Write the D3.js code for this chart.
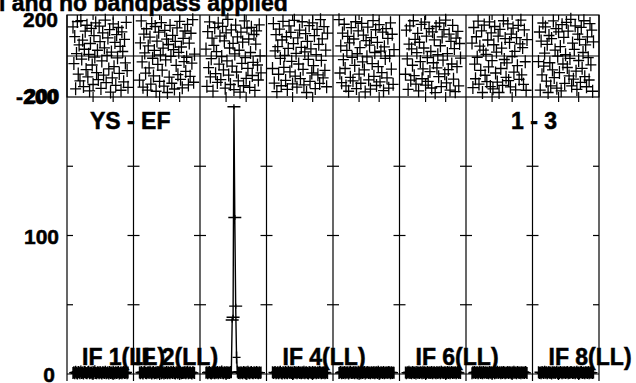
<!DOCTYPE html>
<html><head><meta charset="utf-8">
<script src="https://cdn.jsdelivr.net/npm/d3@7"></script>
<style>body{margin:0;background:#fff}svg{display:block}text{font-family:"Liberation Sans",Arial,sans-serif;font-weight:bold;fill:#000;stroke:#000;stroke-width:0.5}</style>
</head><body><svg id="c" width="636" height="383"></svg>
<script>
const ifNames = ["IF 1","IF 2","IF 3","IF 4","IF 5","IF 6","IF 7","IF 8"];
const channels = d3.range(1, 65);
const channelTicks = [24, 47];
const phaseTicks = [-200, 200];
const ampTicks = [0, 100];
const ampMinorTicks = [50, 100, 150];
const ifLabelText = ["IF 1(LL)","IF 2(LL)","IF 4(LL)","IF 6(LL)","IF 8(LL)"];
const ifLabelPanel = [0, 1, 3, 5, 7];
const baselineLabel = "YS - EF";
const sourceLabel = "1 - 3";
const titleText = "l and no bandpass applied";

const phaseIF1 = [142,-37,95,-160,12,168,-88,54,-121,173,-15,77,-149,33,121,-66,150,-102,8,-170,61,135,-44,-139,99,-5,162,-81,28,-115,146,70,-158,-24,113,-93,40,175,-130,3,88,-63,129,-176,19,-107,157,-52,66,-143,104,-9,139,-85,47,-167,118,22,-126,81,-34,164,-71,-153];
const phaseIF2 = [-118,64,171,-29,-152,107,15,-84,133,-166,49,-58,92,-137,158,-11,-97,27,144,-172,73,-41,116,-124,5,163,-69,38,-147,125,-19,82,-178,56,-103,149,-2,-133,101,31,-161,71,-46,137,-91,18,169,-114,44,-155,86,-27,122,-75,-6,154,-141,63,-99,111,-35,177,-128,9];
const phaseIF3 = [34,-148,119,-57,166,-102,-13,87,-171,52,138,-86,21,-129,160,-40,97,-115,-3,145,-68,74,-157,113,-24,179,-93,39,-139,127,-49,62,-164,10,151,-78,93,-121,28,-176,116,-36,68,-145,171,-8,-109,136,-60,83,-153,17,140,-95,-31,105,-168,58,123,-44,-117,152,1,-82];
const phaseIF4 = [-61,158,-132,25,104,-174,46,-89,131,-12,-145,78,169,-55,3,-119,94,-163,37,147,-77,115,-26,-136,60,174,-98,13,-152,88,-39,126,-110,42,167,-65,-141,20,109,-178,71,-16,148,-124,35,-83,162,-47,99,-159,7,130,-92,57,-134,177,-21,84,-107,143,-70,29,-150,112];
const phaseIF5 = [177,-83,49,-130,112,-18,155,-61,-146,27,96,-172,64,-104,138,-7,-121,83,-46,167,-159,11,123,-88,41,-133,159,-29,102,-68,-175,75,-4,141,-116,53,-162,90,-37,173,-99,17,128,-144,66,-52,153,-126,24,-81,116,-169,45,-12,134,-107,86,-157,1,162,-64,106,-138,31];
const phaseIF6 = [-89,126,-14,-163,58,147,-118,35,-45,172,-96,81,-137,16,110,-170,67,-27,154,-111,-63,39,165,-142,97,-8,-124,134,-76,22,-156,118,-33,79,-179,144,-58,6,-101,161,50,-149,93,-20,129,-87,175,-131,12,-66,107,-166,71,-39,149,-113,36,-174,87,-52,120,-146,61,-10];
const phaseIF7 = [63,-154,139,-40,-111,94,-6,170,-137,48,-70,123,-178,29,151,-94,8,-125,78,-53,166,-149,113,-23,-160,55,144,-83,19,-127,97,-178,130,-61,38,-143,172,-17,85,-104,-34,157,-120,66,-151,107,-3,136,-79,23,-165,90,-47,149,-114,59,175,-92,41,-138,127,-28,-167,80];
const phaseIF8 = [-27,117,-166,73,-92,161,-49,14,142,-123,57,-178,100,-33,-146,85,-68,171,-105,29,134,-157,-1,118,-81,46,-170,153,-39,91,-134,6,164,-56,121,-97,-12,179,-146,63,-113,32,147,-74,-163,107,-22,81,-129,140,-60,17,172,-101,54,-150,93,-8,-117,158,-43,126,-172,69];

const ampIF1 = [0.8,1.2,0.5,1.6,0.9,0.3,1.4,1.1,0.6,1.8,0.7,1.0,0.4,1.5,1.2,0.8,0.5,1.3,1.7,0.6,0.9,1.1,0.4,1.4,0.7,1.9,0.8,0.5,1.2,1.0,0.6,1.5,0.9,0.3,1.3,1.1,0.7,1.6,0.5,0.9,1.2,0.4,1.4,0.8,1.0,0.6,1.7,0.9,0.5,1.3,0.7,1.1,1.5,0.4,0.8,1.2,0.6,1.0,1.4,0.7,0.9,1.3,0.5,1.1];
const ampIF2 = [1.1,0.6,1.4,0.9,0.4,1.2,1.7,0.8,0.5,1.0,1.3,0.7,1.6,0.9,0.4,1.1,1.5,0.6,0.8,1.2,0.5,1.4,1.0,0.7,1.8,0.6,0.9,1.3,0.4,1.1,0.8,1.5,0.6,1.2,0.9,0.5,1.4,1.0,0.7,1.6,0.8,0.4,1.2,1.0,0.6,1.5,0.9,1.3,0.5,0.8,1.1,0.7,1.4,0.6,1.0,1.7,0.5,0.9,1.2,0.8,0.4,1.3,1.0,0.7];
const ampIF3 = [0.9,1.3,0.6,1.0,1.5,0.7,0.4,1.2,0.8,1.6,0.5,1.1,0.9,1.4,0.6,1.0,1.3,0.7,1.8,0.9,0.5,1.2,1.0,0.6,1.4,0.8,1.1,0.7,1.5,1.2,39,41,193,113,49,12,1.6,0.8,1.1,0.5,1.3,0.9,0.6,1.4,1.0,0.7,1.2,0.4,1.6,0.9,0.6,1.1,1.4,0.8,0.5,1.3,1.0,0.7,1.5,0.9,0.6,1.2,0.8,1.0];
const ampIF4 = [1.2,0.7,1.0,1.5,0.5,0.9,1.3,0.6,1.1,1.7,0.8,0.4,1.2,1.0,0.6,1.4,0.9,0.5,1.6,1.1,0.7,1.3,0.8,1.0,0.4,1.5,0.9,1.2,0.6,1.0,1.4,0.7,1.1,0.5,1.3,0.8,1.6,0.6,1.0,1.2,0.7,0.4,1.4,0.9,1.1,0.6,1.5,0.8,1.0,1.3,0.5,0.9,1.2,0.7,1.6,1.0,0.6,1.1,0.8,1.4,0.5,0.9,1.2,0.7];
const ampIF5 = [0.7,1.1,1.4,0.6,1.0,0.8,1.5,0.5,1.2,0.9,1.3,0.4,1.0,1.6,0.7,1.1,0.8,1.4,0.6,1.2,1.0,0.5,1.7,0.9,1.1,0.6,1.3,0.8,1.0,1.5,0.4,1.2,0.9,1.4,0.7,1.0,0.6,1.3,1.1,0.8,1.5,0.5,1.0,1.2,0.7,1.6,0.9,0.6,1.3,1.0,0.8,1.4,0.5,1.1,0.9,1.2,0.7,1.5,1.0,0.6,1.3,0.8,1.1,0.9];
const ampIF6 = [1.0,0.6,1.3,0.9,1.6,0.7,1.1,0.5,1.4,1.0,0.8,1.2,0.4,1.5,0.9,1.1,0.7,1.3,1.0,0.6,1.7,0.8,1.2,0.9,0.5,1.4,1.0,0.7,1.2,0.8,1.5,0.6,1.1,1.3,0.9,0.5,1.4,0.8,1.0,1.2,0.6,1.6,0.9,1.1,0.7,1.3,1.0,0.5,1.4,0.8,1.2,0.6,1.0,1.5,0.7,1.1,0.9,1.3,0.6,1.0,1.4,0.8,1.2,0.7];
const ampIF7 = [0.6,1.2,0.9,1.5,0.7,1.1,1.3,0.5,1.0,1.6,0.8,1.2,0.6,1.4,0.9,1.0,1.3,0.7,1.1,0.5,1.5,0.9,1.2,0.8,1.0,1.4,0.6,1.1,0.9,1.7,0.7,1.0,1.3,0.5,1.2,0.8,1.5,1.0,0.6,1.1,0.9,1.4,0.7,1.2,1.0,0.5,1.3,0.8,1.6,0.9,1.1,0.6,1.4,1.0,0.8,1.2,0.5,1.3,0.9,1.1,0.7,1.5,1.0,0.8];
const ampIF8 = [1.3,0.8,1.0,0.5,1.4,1.1,0.7,1.6,0.9,1.2,0.6,1.0,1.5,0.8,1.1,0.4,1.3,0.9,1.2,0.7,1.0,1.6,0.6,1.1,0.8,1.4,1.0,0.5,1.2,0.9,1.3,0.7,1.1,1.5,0.6,1.0,0.8,1.4,1.2,0.7,0.9,1.3,0.5,1.1,1.6,0.8,1.0,0.6,1.2,1.4,0.7,0.9,1.1,0.5,1.3,1.0,0.8,1.5,0.6,1.2,0.9,1.1,0.7,1.0];

const phaseData = [phaseIF1,phaseIF2,phaseIF3,phaseIF4,phaseIF5,phaseIF6,phaseIF7,phaseIF8];
const ampData = [ampIF1,ampIF2,ampIF3,ampIF4,ampIF5,ampIF6,ampIF7,ampIF8];

const svg = d3.select("#c");
const L = 67, R = 599, PT = 15, PB = 97, AB = 374;
const xIF = d3.scaleBand().domain(ifNames).range([L, R]).padding(0);
const xCh = d3.scaleLinear().domain([1, 64]).range([6, 61]);
const yPh = d3.scaleLinear().domain([-200, 200]).range([PB, PT]);
const yAmp = d3.scaleLinear().domain([0, 200]).range([AB, PB]);

const g = svg.append("g").attr("stroke", "#000").attr("fill", "none").attr("stroke-width", 1.2);

// frames
g.append("rect").attr("x", L).attr("y", PT).attr("width", R - L).attr("height", PB - PT);
g.append("line").attr("x1", L).attr("x2", R).attr("y1", yPh(0)).attr("y2", yPh(0));
g.append("line").attr("x1", L).attr("x2", R).attr("y1", yAmp(0)).attr("y2", yAmp(0));
ifNames.forEach(n => {
  const x0 = xIF(n);
  g.append("line").attr("x1", x0).attr("x2", x0).attr("y1", PT).attr("y2", 381);
});
g.append("line").attr("x1", R).attr("x2", R).attr("y1", PT).attr("y2", 381);

const bounds = ifNames.map(n => xIF(n)).concat([R]);
bounds.forEach((bx, i) => {
  ampMinorTicks.forEach(v => {
    const x1 = i === 0 ? bx : bx - 6;
    const x2 = i === bounds.length - 1 ? bx : bx + 6;
    g.append("line").attr("x1", x1).attr("x2", x2).attr("y1", yAmp(v)).attr("y2", yAmp(v));
  });
});

ifNames.forEach(n => {
  channelTicks.forEach(c => {
    const x = xIF(n) + xCh(c);
    g.append("line").attr("x1", x).attr("x2", x).attr("y1", PB - 5).attr("y2", PB + 5);
    g.append("line").attr("x1", x).attr("x2", x).attr("y1", PT).attr("y2", PT + 5);
    g.append("line").attr("x1", x).attr("x2", x).attr("y1", AB - 5).attr("y2", AB + 6);
  });
});

const cross = (x, y, hw, hh) => `M${x - hw},${y}H${x + hw}M${x},${y - hh}V${y + hh}`;
phaseData.forEach((arr, i) => {
  const x0 = xIF(ifNames[i]);
  g.append("path").attr("stroke", "#000").attr("stroke-width", 1.3)
    .attr("d", arr.map((v, k) => cross(x0 + xCh(channels[k]), yPh(v), 5.5, 6.5)).join(""));
});

ampData.forEach((arr, i) => {
  const x0 = xIF(ifNames[i]);
  const line = d3.line().x((v, k) => x0 + xCh(channels[k])).y(v => yAmp(v));
  g.append("path").attr("stroke-width", 1.4).attr("d", line(arr));
  g.append("path").attr("stroke-width", 1.4)
    .attr("d", arr.map((v, k) => cross(x0 + xCh(channels[k]), yAmp(v), v > 20 ? 6.5 : 4, v > 20 ? 2.5 : 6)).join(""));
});

const tl = svg.append("g").attr("font-size", 21).attr("text-anchor", "end");
tl.append("text").attr("x", 58).attr("y", yPh(phaseTicks[1]) + 12).text(String(phaseTicks[1]));
tl.append("text").attr("x", 58).attr("y", yPh(phaseTicks[0]) + 7).text(String(phaseTicks[0]));
tl.append("text").attr("x", 59.5).attr("y", yAmp(200) + 6).text("200");
ampTicks.forEach(v => {
  tl.append("text").attr("x", v === 0 ? 55 : 59).attr("y", yAmp(v) + 8).text(String(v));
});

const lb = svg.append("g").attr("font-size", 23);
lb.append("text").attr("x", -1).attr("y", 11).text(titleText);
lb.append("text").attr("x", 90).attr("y", 129).text(baselineLabel);
lb.append("text").attr("x", 511).attr("y", 129).text(sourceLabel);
const labOff = [15, 1.5, 16, 16, 16];
ifLabelText.forEach((t, j) => {
  lb.append("text").attr("x", xIF(ifNames[ifLabelPanel[j]]) + labOff[j]).attr("y", 365).text(t);
});
</script></body></html>
